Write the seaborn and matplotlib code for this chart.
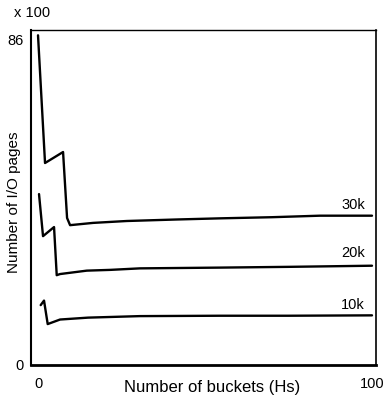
import matplotlib
matplotlib.use("Agg")
import matplotlib.pyplot as plt
import seaborn as sns
import pandas as pd

# values (I/O pages in units of 100)
hs_30k = [0, 2.1, 7.5, 8.7, 9.6, 16.5, 26.6, 41.6, 54.5, 70, 84.4, 100]
io_30k = [87, 53.3, 56.2, 38.8, 36.9, 37.5, 38.0, 38.4, 38.7, 39.0, 39.4, 39.4]

hs_20k = [0.3, 1.5, 4.8, 5.6, 6.6, 14.6, 21.6, 30.5, 54.5, 75, 100]
io_20k = [45.1, 34.0, 36.4, 23.7, 24.0, 24.9, 25.1, 25.5, 25.7, 25.9, 26.2]

hs_10k = [0.8, 1.8, 2.9, 6.6, 15, 30.5, 54.5, 75, 100]
io_10k = [15.8, 17.0, 10.8, 12.0, 12.5, 12.9, 13.0, 13.0, 13.1]

series = {"30k": (hs_30k, io_30k), "20k": (hs_20k, io_20k), "10k": (hs_10k, io_10k)}
label_pos = {"30k": 42.2, "20k": 29.6, "10k": 15.8}

sns.set_style("white")
plt.rcParams["font.family"] = ["Liberation Sans", "DejaVu Sans"]
plt.rcParams.update({"text.color": "black", "axes.labelcolor": "black",
                     "xtick.color": "black", "ytick.color": "black"})

fig = plt.figure(figsize=(3.89, 3.96), dpi=100)
ax = fig.add_axes([31 / 389, 31 / 396, 345 / 389, 335 / 396])

for name, (xs, ys) in series.items():
    df = pd.DataFrame({"hs": xs, "io": ys})
    sns.lineplot(data=df, x="hs", y="io", ax=ax, color="black", linewidth=1.7,
                 sort=False, estimator=None)
    ax.text(94.3, label_pos[name], name, ha="center", va="center", fontsize=10.5)

ax.set_xlim(-2.1, 101.2)
ax.set_ylim(0, 88.4)
ax.set_xticks([0, 100])
ax.set_yticks([0, 86])
ax.tick_params(axis="both", length=0, labelsize=10.5)
ax.tick_params(axis="x", pad=9)
ax.tick_params(axis="y", pad=5)

ax.set_xlabel("Number of buckets (Hs)", fontsize=12)
ax.xaxis.set_label_coords((212 - 31) / 345, -0.045)
ax.set_ylabel("Number of I/O pages", fontsize=11)
ax.yaxis.set_label_coords(-0.03, 0.485)

for side, lw in {"left": 1.5, "bottom": 2.0, "top": 1.0, "right": 1.2}.items():
    ax.spines[side].set_visible(True)
    ax.spines[side].set_color("black")
    ax.spines[side].set_linewidth(lw)

fig.text(14 / 389, 1 - 13 / 396, "x 100", ha="left", va="center", fontsize=10.5)

fig.savefig("out.png", dpi=100)
